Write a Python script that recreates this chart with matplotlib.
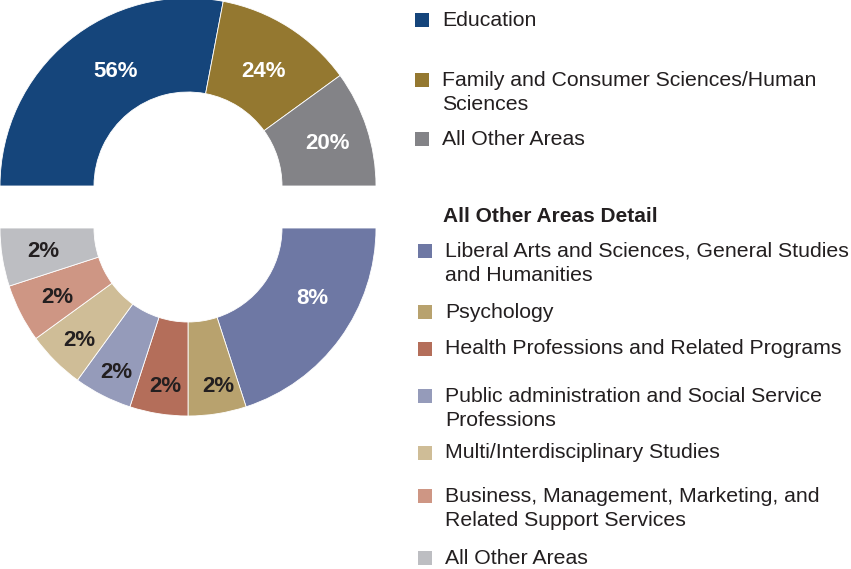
import matplotlib.pyplot as plt
from matplotlib.patches import Rectangle

plt.rcParams['font.family'] = ['Liberation Sans', 'DejaVu Sans']

# top half: degree areas
main_labels = ['Education', 'Family and Consumer Sciences/Human\nSciences', 'All Other Areas']
main_values = [56, 24, 20]
main_colors = ['#15457B', '#947830', '#838387']
main_text = ['white', 'white', 'white']

# bottom half: breakdown of "All Other Areas"
detail_labels = ['Liberal Arts and Sciences, General Studies\nand Humanities',
                 'Psychology',
                 'Health Professions and Related Programs',
                 'Public administration and Social Service\nProfessions',
                 'Multi/Interdisciplinary Studies',
                 'Business, Management, Marketing, and\nRelated Support Services',
                 'All Other Areas']
detail_values = [8, 2, 2, 2, 2, 2, 2]
detail_colors = ['#6E78A4', '#B8A26E', '#B46E5A', '#959BBA', '#CFBD97', '#CE9684', '#BDBEC2']
detail_text = ['white', '#231F20', '#231F20', '#231F20', '#231F20', '#231F20', '#231F20']

# where the percent labels sit (pixel coords, from the top-left)
main_pos = [(115.5, 69.5), (263.5, 69.5), (328, 141.5)]
detail_pos = [(312.5, 296), (218.5, 385), (165.5, 385), (116.5, 370),
              (79.5, 339), (57, 295), (43.5, 249.5)]

W, H = 851, 569
fig = plt.figure(figsize=(W / 100, H / 100), dpi=100)
ax = fig.add_axes([0, 0, 1, 1])

R, ring = 188, 94
wp = dict(width=ring, edgecolor='white', linewidth=0.6)

# upper half donut, invisible filler takes the lower half
vals = main_values + [sum(main_values)]
wedges, _ = ax.pie(vals, colors=main_colors + ['none'], startangle=180, counterclock=False,
                   radius=R, center=(188, H - 186), wedgeprops=wp)
wedges[-1].set_edgecolor('none')

# lower half donut
vals = detail_values + [sum(detail_values)]
wedges, _ = ax.pie(vals, colors=detail_colors + ['none'], startangle=0, counterclock=False,
                   radius=R, center=(188, H - 228), wedgeprops=wp)
wedges[-1].set_edgecolor('none')

for vs, ps, cs in [(main_values, main_pos, main_text), (detail_values, detail_pos, detail_text)]:
    for v, (px, py), c in zip(vs, ps, cs):
        ax.text(px, H - py - 2, f'{v}%', fontsize=16, fontweight='bold', color=c,
                ha='center', va='center')

ax.set_aspect('auto')
ax.set_xlim(0, W)
ax.set_ylim(0, H)
ax.axis('off')


def legend_item(x, y, color, label):
    ax.add_patch(Rectangle((x, H - y - 7), 14, 14, color=color, lw=0))
    for j, line in enumerate(label.split('\n')):
        ax.text(x + 27, H - y - j * 24, line, fontsize=15.3, color='#231F20', va='center', ha='left')


for y, c, lab in zip([20, 80, 139], main_colors, main_labels):
    legend_item(415, y, c, lab)

ax.text(443, H - 216, 'All Other Areas Detail', fontsize=15, fontweight='bold',
        color='#231F20', va='center', ha='left')
for y, c, lab in zip([251, 312, 349, 396, 453, 496, 558], detail_colors, detail_labels):
    legend_item(418, y, c, lab)

plt.savefig('out.png', dpi=100)
